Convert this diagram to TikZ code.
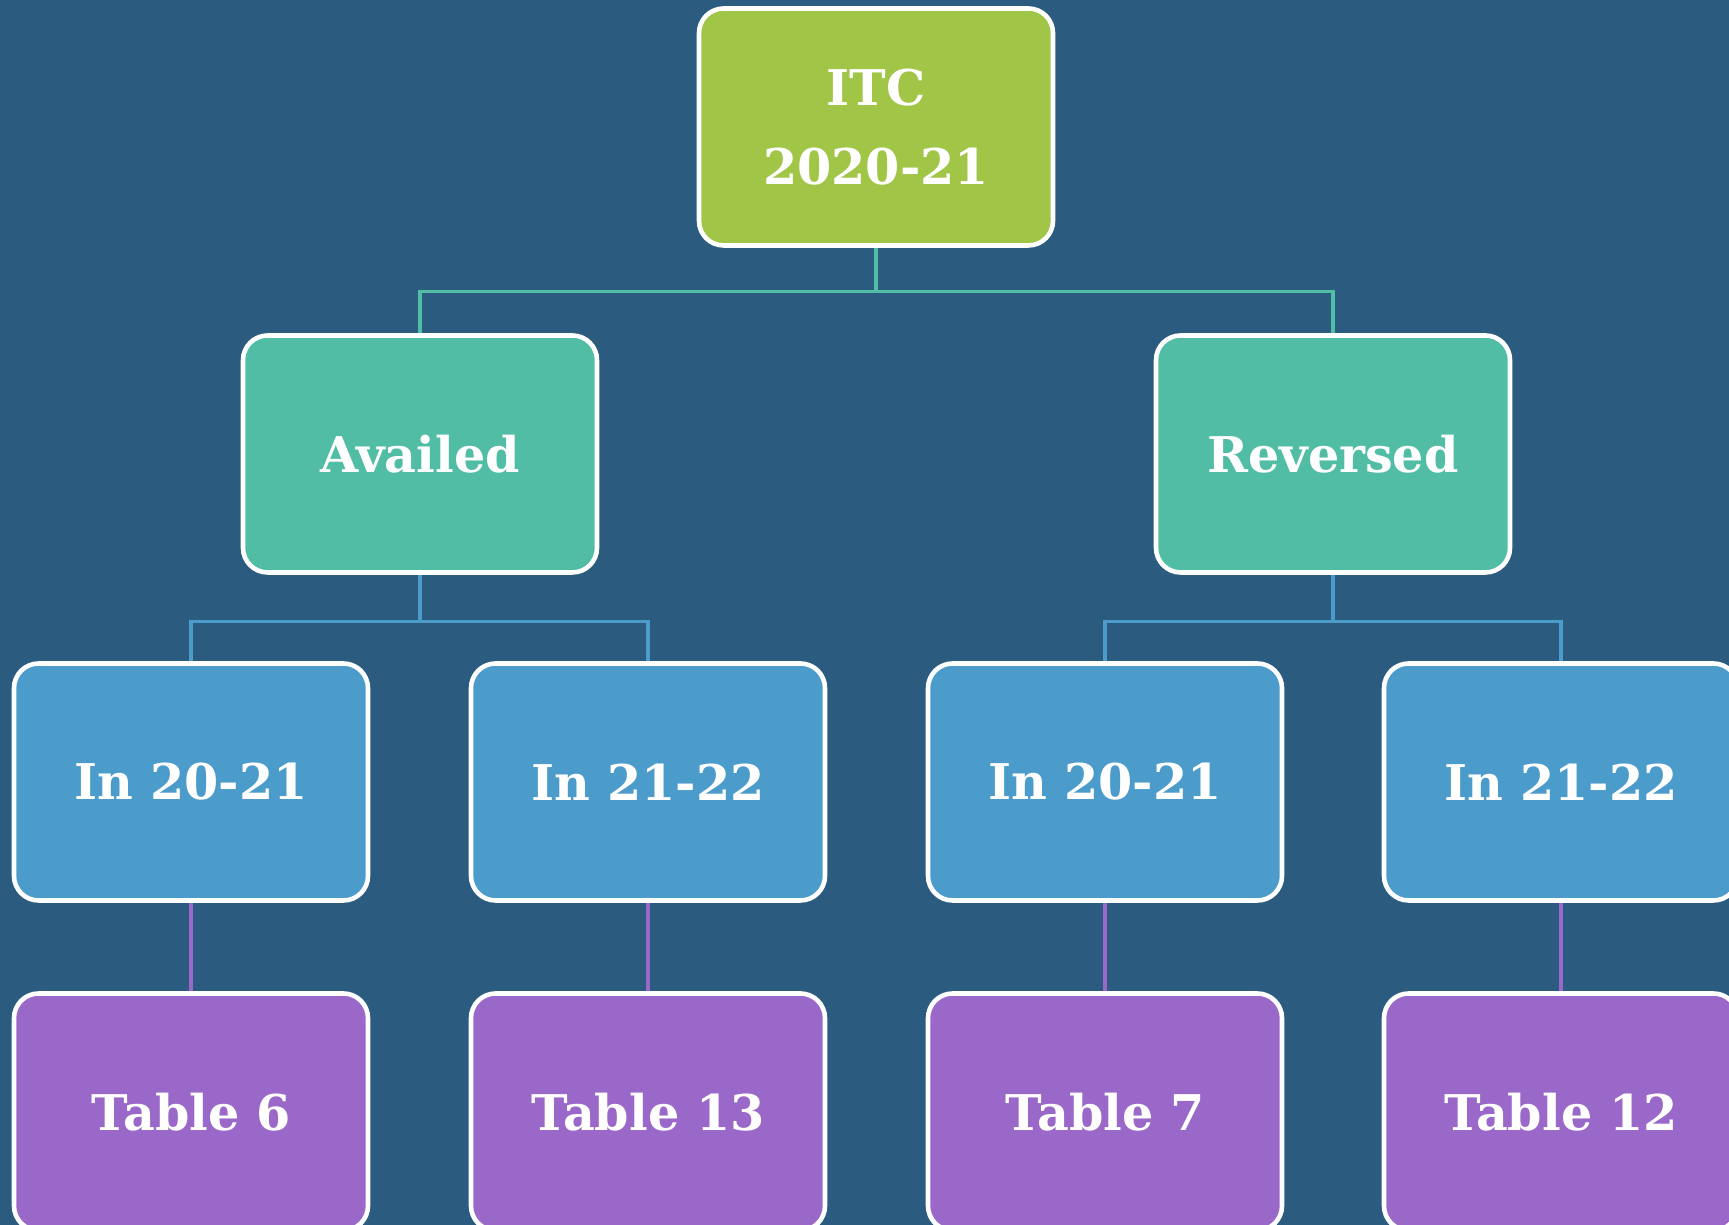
\documentclass[tikz,border=0pt]{standalone}
\usepackage{fontspec}
\setmainfont{DejaVu Serif}
\usepackage{tikz}

\definecolor{bgblue}{RGB}{43,91,126}
\definecolor{itcgreen}{RGB}{161,197,70}
\definecolor{tealbox}{RGB}{82,189,165}
\definecolor{bluebox}{RGB}{75,156,203}
\definecolor{purplebox}{RGB}{154,104,200}

\tikzset{
  box/.style={draw=white, line width=1.3pt, rounded corners=7pt, minimum width=3.54cm, minimum height=2.37cm, text=white, align=center, font=\fontsize{14}{22.5}\selectfont\bfseries},
  link/.style={line width=0.9pt}
}

\begin{document}
\begin{tikzpicture}
\clip (0,0) rectangle (17.29,12.25);
\fill[bgblue] (0,0) rectangle (17.29,12.25);

% top
\node[box, fill=itcgreen] (itc) at (8.76,10.98) {ITC\\2020-21};

% second row
\node[box, fill=tealbox] (avail) at (4.20,7.71) {Availed};
\node[box, fill=tealbox] (rev) at (13.33,7.71) {Reversed};

% third row
\node[box, fill=bluebox] (avA) at (1.91,4.43) {In 20-21};
\node[box, fill=bluebox] (avB) at (6.48,4.43) {In 21-22};
\node[box, fill=bluebox] (revA) at (11.05,4.43) {In 20-21};
\node[box, fill=bluebox] (revB) at (15.61,4.43) {In 21-22};

% tables
\node[box, fill=purplebox] (tabA) at (1.91,1.13) {Table 6};
\node[box, fill=purplebox] (tabB) at (6.48,1.13) {Table 13};
\node[box, fill=purplebox] (tabC) at (11.05,1.13) {Table 7};
\node[box, fill=purplebox] (tabD) at (15.61,1.13) {Table 12};

\draw[link, tealbox] (itc.south) -- ++(0,-0.44) -| (avail.north);
\draw[link, tealbox] (itc.south) -- ++(0,-0.44) -| (rev.north);
\draw[link, bluebox] (avail.south) -- ++(0,-0.47) -| (avA.north);
\draw[link, bluebox] (avail.south) -- ++(0,-0.47) -| (avB.north);
\draw[link, bluebox] (rev.south) -- ++(0,-0.47) -| (revA.north);
\draw[link, bluebox] (rev.south) -- ++(0,-0.47) -| (revB.north);
\draw[link, purplebox] (avA) -- (tabA);
\draw[link, purplebox] (avB) -- (tabB);
\draw[link, purplebox] (revA) -- (tabC);
\draw[link, purplebox] (revB) -- (tabD);
\end{tikzpicture}
\end{document}
